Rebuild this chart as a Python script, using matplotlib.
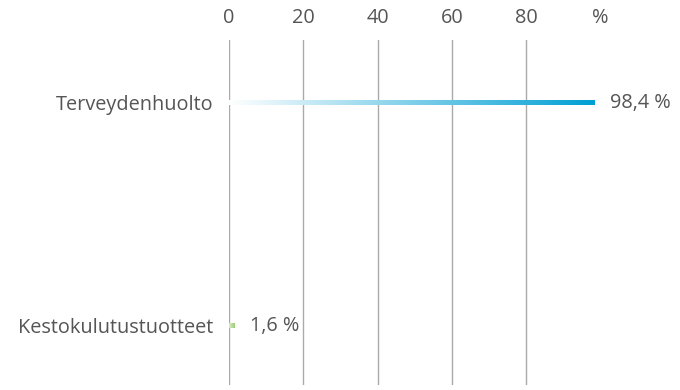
import matplotlib.pyplot as plt
import numpy as np
from matplotlib.colors import LinearSegmentedColormap

categories = ["Terveydenhuolto", "Kestokulutustuotteet"]
values = [98.4, 1.6]
value_labels = ["98,4 %", "1,6 %"]
ticks = [0, 20, 40, 60, 80, 100]
tick_labels = ["0", "20", "40", "60", "80", "%"]

plt.rcParams['font.family'] = ['Open Sans', 'DejaVu Sans']
text_color = "#555555"
fs = 14.3

fig = plt.figure(figsize=(6.8, 3.9), dpi=100)
ax = fig.add_axes([229/680, 5/390, (600.5-229)/680, 345/390])

for x in ticks[:-1]:
	ax.axvline(x, color="#aaaaaa", lw=1, zorder=1)

cmaps = [
	LinearSegmentedColormap.from_list("blue", ["#ffffff", "#009fd4"]),
	LinearSegmentedColormap.from_list("green", ["#d9ecc8", "#9ccc74"]),
]
h = 0.009
grad = np.linspace(0, 1, 256).reshape(1, -1)
for i, (v, lab) in enumerate(zip(values, value_labels)):
	ax.imshow(grad, cmap=cmaps[i], extent=[0, v, i + h, i - h], aspect="auto", zorder=2)
	ax.annotate(lab, (v, i), xytext=(11, 0), textcoords="offset points",
		va="center", ha="left", fontsize=fs, color=text_color)

ax.set_xlim(0, 100)
ax.set_ylim(1.2646, -0.2825)

ax.set_yticks(range(len(categories)))
ax.set_yticklabels(categories, fontsize=fs, color=text_color)
ax.xaxis.tick_top()
ax.set_xticks(ticks)
ax.set_xticklabels(tick_labels, fontsize=fs, color=text_color)
ax.tick_params(length=0)
ax.tick_params(axis="x", pad=9)
ax.tick_params(axis="y", pad=11)
for s in ax.spines.values():
	s.set_visible(False)

fig.savefig("out.png", dpi=100)
